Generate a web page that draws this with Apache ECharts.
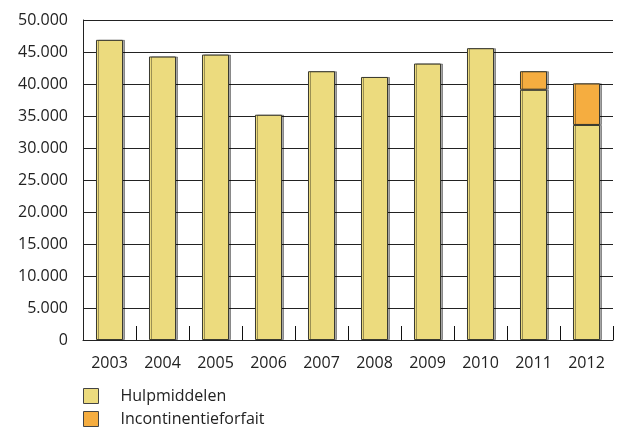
<!DOCTYPE html>
<html><head><meta charset="utf-8">
<script src="https://cdn.jsdelivr.net/npm/echarts@6/dist/echarts.min.js"></script>
<style>html,body{margin:0;padding:0;background:#fff}#c{width:621px;height:429px}</style>
</head><body><div id="c"></div>
<script>
const years = ['2003','2004','2005','2006','2007','2008','2009','2010','2011','2012'];
const hulpmiddelen = [46900, 44300, 44600, 35200, 42000, 41100, 43200, 45600, 39100, 33600];
const incontinentie = [null, null, null, null, null, null, null, null, 2900, 6500];
const seriesNames = ['Hulpmiddelen', 'Incontinentieforfait'];

const FONT = '"Open Sans", "Noto Sans", sans-serif';
const chart = echarts.init(document.getElementById('c'), null, {renderer: 'canvas'});
const fmt = v => v === 0 ? '0' : String(v).replace(/\B(?=(\d{3})+(?!\d))/g, '.');
const barStyle = c => ({color: c, borderColor: '#3a3a30', borderWidth: 1,
  shadowColor: 'rgba(0,0,0,0.35)', shadowOffsetX: 2, shadowOffsetY: 0, shadowBlur: 0});
chart.setOption({
  animation: false,
  grid: {left: 83, right: 8, top: 20, bottom: 89},
  legend: {
    orient: 'vertical', left: 83, top: 388, padding: 0, itemWidth: 15, itemHeight: 15, itemGap: 7,
    icon: 'rect',
    data: seriesNames,
    itemStyle: {borderColor: '#444', borderWidth: 1},
    textStyle: {fontFamily: FONT, fontSize: 16, color: '#222', padding: [0, 0, 0, 17]}
  },
  xAxis: {
    type: 'category', data: years, z: 10,
    axisLine: {show: true, onZero: false, lineStyle: {color: '#222', width: 1}},
    axisTick: {show: false},
    axisLabel: {fontFamily: FONT, fontSize: 16, color: '#222', margin: 15}
  },
  yAxis: {
    type: 'value', min: 0, max: 50000, interval: 5000,
    axisLine: {show: true, lineStyle: {color: '#222'}},
    axisTick: {show: false},
    splitLine: {lineStyle: {color: '#222', width: 1}},
    axisLabel: {fontFamily: FONT, fontSize: 16, color: '#222', margin: 15, formatter: fmt}
  },
  series: [
    {name: seriesNames[0], type: 'bar', stack: 't', data: hulpmiddelen, barWidth: '51%',
     itemStyle: barStyle('#ecdb7e'), z: 2},
    {name: seriesNames[1], type: 'bar', stack: 't', data: incontinentie, barWidth: '51%',
     itemStyle: barStyle('#f5ad40'), z: 2},
    {name: 'ticks', type: 'custom', silent: true, z: 20, clip: false,
     data: years.map((_, i) => [i, 0]), encode: {x: 0, y: 1},
     renderItem: function (params, api) {
       const p = api.coord([params.dataIndex, 0]);
       const w = api.size([1, 0])[0];
       const x = Math.round(p[0] + w / 2);
       return {type: 'rect', z2: 100, shape: {x: x, y: p[1] - 14, width: 1, height: 14},
               style: {fill: '#111'}};
     }}
  ]
});
</script></body></html>
